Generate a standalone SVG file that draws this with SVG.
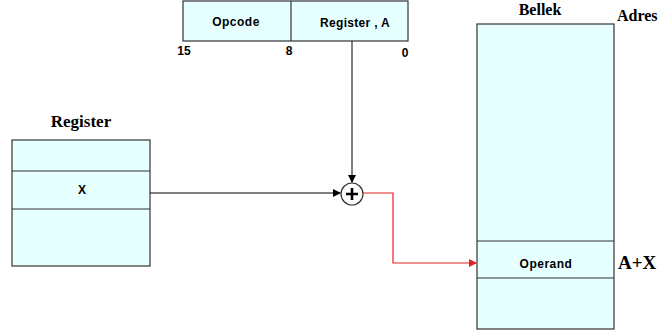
<svg xmlns="http://www.w3.org/2000/svg" width="661" height="333" viewBox="0 0 661 333">
<style>
.box{fill:#e6ffff;stroke:#333;stroke-width:1.2}
.ln{stroke:#333;stroke-width:1.2;fill:none}
.s{font-family:"Liberation Sans",Arial,sans-serif;font-weight:bold;font-size:12px;fill:#000}
.t{font-family:"Liberation Serif","Times New Roman",serif;font-weight:bold;fill:#000}
.c{stroke:#000;stroke-width:1;fill:none}
.r{stroke:#e52020;stroke-width:1.2;fill:none}
</style>
<defs>
<marker id="ab" markerWidth="8" markerHeight="8" refX="7" refY="4" orient="auto" markerUnits="userSpaceOnUse"><path d="M0,0 L8,4 L0,8 z" fill="#000"/></marker>
<marker id="ar" markerWidth="8" markerHeight="8" refX="7" refY="4" orient="auto" markerUnits="userSpaceOnUse"><path d="M0,0 L8,4 L0,8 z" fill="#e52020"/></marker>
</defs>
<rect width="661" height="333" fill="#fff"/>
<g id="instruction">
<rect class="box" x="183" y="1" width="225" height="40"/>
<line class="ln" x1="291" y1="1" x2="291" y2="41"/>
<text class="s" x="236" y="26" text-anchor="middle" letter-spacing="0.5">Opcode</text>
<text class="s" x="355" y="27" text-anchor="middle" letter-spacing="0.3">Register , A</text>
<text class="s" x="184" y="55" text-anchor="middle">15</text>
<text class="s" x="289" y="55" text-anchor="middle">8</text>
<text class="s" x="405" y="57" text-anchor="middle">0</text>
</g>
<g id="register">
<text class="t" x="81" y="127" font-size="17" text-anchor="middle">Register</text>
<rect class="box" x="12" y="140" width="138" height="126"/>
<line class="ln" x1="12" y1="171" x2="150" y2="171"/>
<line class="ln" x1="12" y1="209" x2="150" y2="209"/>
<text class="s" x="82" y="194" text-anchor="middle">X</text>
</g>
<g id="adder">
<circle cx="352" cy="194" r="11" fill="#fff" stroke="#333" stroke-width="1.2"/>
<path d="M346,194 H358 M352,188 V200" stroke="#000" stroke-width="2.6"/>
</g>
<g id="bellek">
<text class="t" x="540" y="15" font-size="16" text-anchor="middle">Bellek</text>
<text class="t" x="617" y="21" font-size="16">Adres</text>
<rect class="box" x="477" y="24" width="137" height="305"/>
<line class="ln" x1="477" y1="241" x2="614" y2="241"/>
<line class="ln" x1="477" y1="278" x2="614" y2="278"/>
<text class="s" x="546" y="268" text-anchor="middle" letter-spacing="0.5">Operand</text>
<text class="t" x="618" y="269" font-size="19">A+X</text>
</g>
<g id="connectors">
<line class="c" x1="352" y1="41" x2="352" y2="182" marker-end="url(#ab)"/>
<line class="c" x1="150" y1="193" x2="340" y2="193" marker-end="url(#ab)"/>
<polyline class="r" points="363,193 393,193 393,263 476,263" marker-end="url(#ar)"/>
</g>
</svg>
